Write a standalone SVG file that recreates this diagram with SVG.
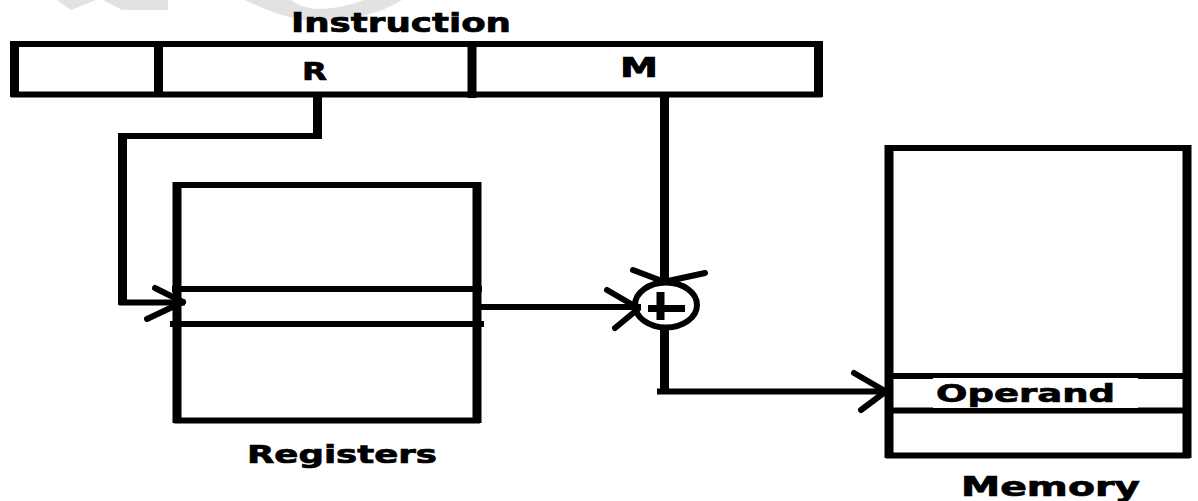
<svg xmlns="http://www.w3.org/2000/svg" width="1198" height="501" viewBox="0 0 1198 501">
<style>
.h{stroke:#000;stroke-width:6;fill:none;stroke-linecap:square}
.v{stroke:#000;stroke-width:9;fill:none;stroke-linecap:butt}
.ah{stroke:#000;stroke-width:6;fill:none;stroke-linecap:round}
.t{font-family:"DejaVu Sans","Liberation Sans",sans-serif;font-weight:bold;fill:#000;stroke:#000;stroke-width:0.7}
</style>
<rect width="1198" height="501" fill="#fff"/>
<g id="watermark" fill="#e2e2e2">
<polygon points="57,0 96,0 71,10"/>
<polygon points="103,0 168,0 168,10 122,10"/>
<path d="M245,0 Q290,22 320,21 Q370,20 402,0 L364,0 Q340,9 316,9 Q300,7 291,0 Z"/>
</g>
<g id="instruction">
<text class="t" x="291" y="32" font-size="27" textLength="220" lengthAdjust="spacingAndGlyphs">Instruction</text>
<line class="h" x1="14" y1="44" x2="819" y2="44"/>
<line class="h" x1="14" y1="94.5" x2="819" y2="94.5"/>
<line class="v" x1="14.5" y1="41" x2="14.5" y2="97"/>
<line class="v" x1="818.5" y1="41" x2="818.5" y2="97"/>
<line class="v" x1="158.5" y1="44" x2="158.5" y2="97"/>
<line class="v" x1="472" y1="44" x2="472" y2="98"/>
<text class="t" x="302" y="80" font-size="25" textLength="25" lengthAdjust="spacingAndGlyphs">R</text>
<text class="t" x="620" y="77" font-size="26" textLength="38" lengthAdjust="spacingAndGlyphs">M</text>
</g>
<g id="registers">
<line class="h" x1="177" y1="185" x2="477" y2="185"/>
<line class="h" x1="177" y1="420.5" x2="477" y2="420.5"/>
<line class="v" x1="177" y1="182" x2="177" y2="423"/>
<line class="v" x1="477" y1="182" x2="477" y2="423"/>
<line class="h" x1="175" y1="289" x2="479" y2="289"/>
<line class="h" x1="173" y1="324" x2="481" y2="324"/>
<text class="t" x="247" y="463" font-size="25" textLength="190" lengthAdjust="spacingAndGlyphs">Registers</text>
</g>
<g id="adder">
<ellipse cx="666" cy="305" rx="31" ry="22.5" fill="none" stroke="#000" stroke-width="6"/>
<line x1="648" y1="308.5" x2="685" y2="308.5" stroke="#000" stroke-width="7"/>
<line x1="660.5" y1="292" x2="660.5" y2="320" stroke="#000" stroke-width="8"/>
</g>
<g id="memory">
<line class="h" x1="889" y1="148" x2="1187" y2="148"/>
<line class="h" x1="889" y1="455.5" x2="1187" y2="455.5"/>
<line class="v" x1="889" y1="145" x2="889" y2="458"/>
<line class="v" x1="1187" y1="145" x2="1187" y2="458"/>
<line class="h" x1="889" y1="376" x2="1187" y2="376"/>
<line class="h" x1="889" y1="410.5" x2="1187" y2="410.5"/>
<rect x="933" y="378" width="205" height="30" fill="#fff"/>
<text class="t" x="936" y="402" font-size="25" textLength="179" lengthAdjust="spacingAndGlyphs">Operand</text>
<text class="t" x="961" y="496" font-size="26" textLength="179" lengthAdjust="spacingAndGlyphs">Memory</text>
</g>
<g id="connectors">
<line class="v" x1="317.5" y1="97" x2="317.5" y2="139"/>
<line class="h" x1="122" y1="136" x2="317" y2="136"/>
<line class="v" x1="122.5" y1="133" x2="122.5" y2="305"/>
<line class="h" x1="122" y1="302.5" x2="182" y2="302.5"/>
<line class="ah" x1="155" y1="288" x2="183" y2="302"/>
<line class="ah" x1="147" y1="319" x2="183" y2="302"/>
<line class="h" x1="482" y1="307" x2="638" y2="307"/>
<line class="ah" x1="607" y1="290" x2="638" y2="308"/>
<line class="ah" x1="615" y1="328" x2="638" y2="309"/>
<line class="v" x1="664.5" y1="97" x2="664.5" y2="283"/>
<line class="ah" x1="633" y1="270" x2="662" y2="281"/>
<line class="ah" x1="705" y1="273" x2="668" y2="281"/>
<line class="v" x1="664.5" y1="328" x2="664.5" y2="394"/>
<line class="h" x1="660" y1="391.5" x2="884" y2="391.5"/>
<line class="ah" x1="854" y1="373" x2="885" y2="391"/>
<line class="ah" x1="861" y1="410" x2="885" y2="392"/>
</g>
</svg>
